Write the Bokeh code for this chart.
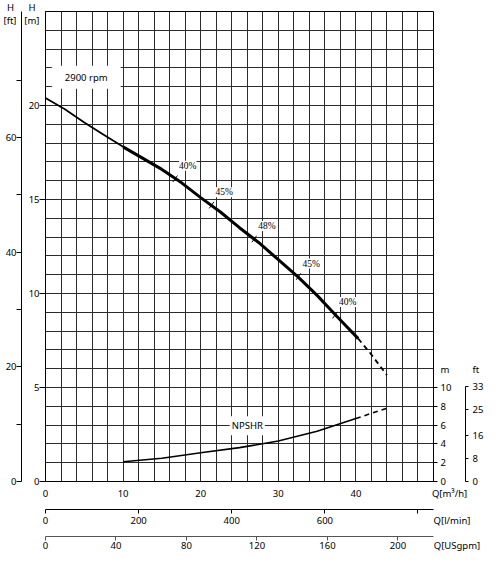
import numpy as np
from bokeh.plotting import figure
from bokeh.models import Range1d, LinearAxis, FixedTicker, Label, LabelSet, ColumnDataSource
from bokeh.embed import file_html
from bokeh.resources import INLINE

# ---------------- data ----------------
head_q_thin = [0, 2.5, 5, 7.5, 10]
head_h_thin = [20.4, 19.8, 19.1, 18.45, 17.8]
head_q_thick = [10, 12.5, 15, 17.5, 20, 22.5, 25, 27.5, 30, 32.5, 35, 37.5, 40.3]
head_h_thick = [17.8, 17.2, 16.6, 15.9, 15.1, 14.35, 13.5, 12.7, 11.8, 10.9, 9.9, 8.8, 7.6]
head_q_dash = [40.3, 42, 44]
head_h_dash = [7.6, 6.75, 5.65]

eff_q = [16.7, 21.4, 26.9, 32.6, 37.3]
eff_h = [16.1, 14.7, 12.9, 10.9, 8.85]
eff_labels = ["40%", "45%", "48%", "45%", "40%"]

npsh_q_solid = [10, 15, 20, 25, 30, 35, 40]
npsh_m_solid = [2.1, 2.47, 3.05, 3.6, 4.3, 5.35, 6.7]
npsh_q_dash = [40, 42, 44]
npsh_m_dash = [6.7, 7.25, 7.8]

h_m_ticks = [0, 5, 10, 15, 20]
h_ft_ticks = [0, 20, 40, 60]
h_ft_minor = [0, 10, 20, 30, 40, 50, 60, 70]
npsh_m_ticks = [0, 2, 4, 6, 8, 10]
npsh_ft_ticks = [0, 8, 16, 25, 33]
q_m3h_ticks = [0, 10, 20, 30, 40]
q_lmin_ticks = [0, 200, 400, 600]
q_lmin_marks = [0, 200, 400, 600, 800]
q_gpm_ticks = [0, 40, 80, 120, 160, 200]

Q_MAX = 50
H_MAX = 25
NPSH_FACTOR = 2.0          # 10 m NPSH drawn at 5 m of head
M_TO_FT = 3.28084
M3H_TO_LMIN = 1000 / 60
M3H_TO_GPM = 4.402868

FONT = "Noto Sans"
FS = "9.5px"
NB = "\u00a0"

FRAME_H = 473
FRAME_W = 392

p = figure(width=486, height=554,
           x_range=Range1d(0, Q_MAX), y_range=Range1d(0, H_MAX),
           x_axis_location=None, y_axis_location=None,
           output_backend="svg", toolbar_location=None,
           min_border_left=45, min_border_right=49, min_border_top=11, min_border_bottom=70)
p.background_fill_color = "white"
p.border_fill_color = "white"
p.outline_line_color = "black"
p.outline_line_width = 1

ft_end = H_MAX * M_TO_FT
npsh_end = H_MAX * NPSH_FACTOR
npsh_ft_end = npsh_end * M_TO_FT
lmin_end = Q_MAX * M3H_TO_LMIN
gpm_end = Q_MAX * M3H_TO_GPM

p.extra_y_ranges = {
    "ft": Range1d(0, ft_end),
    "npsh": Range1d(0, npsh_end),
    "npsh_ft": Range1d(0, npsh_ft_end),
}
p.extra_x_ranges = {
    "lmin": Range1d(0, lmin_end),
    "gpm": Range1d(0, gpm_end),
}

# grid
p.xgrid.ticker = FixedTicker(ticks=list(np.arange(0, Q_MAX + 1, 2)))
p.ygrid.ticker = FixedTicker(ticks=list(np.arange(0, H_MAX + 1, 1)))
p.xgrid.grid_line_color = "#2b2b2b"
p.ygrid.grid_line_color = "#2b2b2b"
p.xgrid.grid_line_width = 1
p.ygrid.grid_line_width = 1


def style_axis(ax):
    ax.major_label_text_font = FONT
    ax.major_label_text_font_size = FS
    ax.major_label_text_color = "black"
    ax.major_label_text_line_height = 1.0
    ax.axis_line_color = "black"
    ax.major_tick_line_color = "black"
    ax.minor_tick_line_color = "black"
    ax.major_tick_in = 0
    ax.minor_tick_in = 0
    ax.minor_tick_out = 0
    ax.axis_label_text_font = FONT
    return ax


# header positions (two-line titles at the top of the vertical axes)
hdr_px = 2.5
hdr_m = H_MAX - hdr_px * H_MAX / FRAME_H
hdr_ft = ft_end - hdr_px * ft_end / FRAME_H

# left axes: m (next to frame) and ft (outside)
ax_m = style_axis(LinearAxis(ticker=FixedTicker(ticks=h_m_ticks + [hdr_m], minor_ticks=h_m_ticks),
                             major_label_overrides={hdr_m: "H" + NB + "\u2009\n[m]"}))
ax_m.major_tick_out = 0
ax_m.minor_tick_out = 6
ax_m.major_label_standoff = 0
p.add_layout(ax_m, "left")

ax_ft = style_axis(LinearAxis(y_range_name="ft",
                              ticker=FixedTicker(ticks=h_ft_ticks + [hdr_ft], minor_ticks=h_ft_minor),
                              major_label_overrides={hdr_ft: "H" + NB + "\n[ft]"}))
ax_ft.major_tick_out = 0
ax_ft.minor_tick_out = 5
ax_ft.major_label_standoff = 0
p.add_layout(ax_ft, "left")

# right axes: NPSH m, line of NPSH ft, NPSH ft ticks
unit_px = 113
npsh_unit = unit_px * npsh_end / FRAME_H
npsh_ft_unit = unit_px * npsh_ft_end / FRAME_H

ax_nm = style_axis(LinearAxis(y_range_name="npsh",
                              ticker=FixedTicker(ticks=npsh_m_ticks + [npsh_unit], minor_ticks=npsh_m_ticks),
                              major_label_overrides={npsh_unit: "m"},
                              bounds=(0, npsh_unit)))
ax_nm.major_tick_out = 0
ax_nm.minor_tick_out = 4
ax_nm.major_label_standoff = 3
ax_nm.axis_label = " "
ax_nm.axis_label_text_font_size = "5px"
ax_nm.axis_label_standoff = 2
p.add_layout(ax_nm, "right")

ax_nline = style_axis(LinearAxis(y_range_name="npsh_ft", ticker=FixedTicker(ticks=[]),
                                 bounds=(0, 33)))
ax_nline.major_tick_out = 0
ax_nline.major_label_standoff = 0
p.add_layout(ax_nline, "right")

ax_nft = style_axis(LinearAxis(y_range_name="npsh_ft",
                               ticker=FixedTicker(ticks=npsh_ft_ticks + [npsh_ft_unit],
                                                  minor_ticks=npsh_ft_ticks),
                               major_label_overrides={npsh_ft_unit: "ft"},
                               bounds=(0, npsh_ft_unit)))
ax_nft.axis_line_color = None
ax_nft.major_tick_out = 0
ax_nft.minor_tick_out = 3
ax_nft.major_label_standoff = 4
p.add_layout(ax_nft, "right")

# bottom axes
q_end = Q_MAX - 1e-9
ax_q = style_axis(LinearAxis(ticker=FixedTicker(ticks=q_m3h_ticks + [q_end]),
                             major_label_overrides={q_end: NB * 13 + "Q[m³/h]"}))
ax_q.axis_line_color = None
ax_q.major_tick_out = 0
ax_q.major_label_standoff = 5
ax_q.axis_label = " "
ax_q.axis_label_text_font_size = "3px"
ax_q.axis_label_standoff = 0
p.add_layout(ax_q, "below")

l_end = lmin_end - 1e-9
ax_l = style_axis(LinearAxis(x_range_name="lmin",
                             ticker=FixedTicker(ticks=q_lmin_ticks + [l_end], minor_ticks=q_lmin_marks),
                             major_label_overrides={l_end: NB * 15 + "Q[l/min]"}))
ax_l.major_tick_out = 0
ax_l.minor_tick_out = 4
ax_l.major_label_standoff = 0
ax_l.axis_label = " "
ax_l.axis_label_text_font_size = "3px"
ax_l.axis_label_standoff = 0
p.add_layout(ax_l, "below")

g_end = gpm_end - 1e-9
ax_g = style_axis(LinearAxis(x_range_name="gpm",
                             ticker=FixedTicker(ticks=q_gpm_ticks + [g_end], minor_ticks=q_gpm_ticks),
                             major_label_overrides={g_end: NB * 19 + "Q[USgpm]"}))
ax_g.axis_line_color = "#555555"
ax_g.minor_tick_line_color = "#555555"
ax_g.major_tick_out = 0
ax_g.minor_tick_out = 4
ax_g.major_label_standoff = -2
p.add_layout(ax_g, "below")

# curves
p.line(head_q_thin, head_h_thin, line_color="black", line_width=1.8)
p.line(head_q_thick, head_h_thick, line_color="black", line_width=3)
p.line(head_q_dash, head_h_dash, line_color="black", line_width=1.8, line_dash="5 4")

p.line(npsh_q_solid, npsh_m_solid, y_range_name="npsh", line_color="black", line_width=1.6)
p.line(npsh_q_dash, npsh_m_dash, y_range_name="npsh", line_color="black", line_width=1.6,
       line_dash="5 4")

p.scatter(eff_q, eff_h, marker="dash", size=8, angle=0.95, line_color="black", line_width=1)

has_pad = "padding" in Label.properties()

eff_src = ColumnDataSource(dict(x=eff_q, y=eff_h, t=eff_labels))
p.add_layout(LabelSet(x="x", y="y", text="t", source=eff_src, x_offset=4, y_offset=8,
                      text_align="left", text_baseline="bottom", text_font=FONT,
                      text_color="black", text_font_size=FS, background_fill_color="white"))


def add_label(x, y, text, align="left", baseline="middle", bg=None, pad=0,
              y_range_name="default"):
    kw = dict(x=x, y=y, text=text, text_align=align, text_baseline=baseline,
              text_font=FONT, text_font_size=FS, text_color="black",
              y_range_name=y_range_name)
    if bg:
        kw["background_fill_color"] = bg
        if has_pad and pad:
            kw["padding"] = pad
    p.add_layout(Label(**kw))


add_label(5.25, 21.5, "2900 rpm", align="center", bg="white", pad=(13, 5))
add_label(26.0, 5.92, "NPSHR", align="center", bg="white", pad=(2, 3), y_range_name="npsh")

open("out.html", "w").write(file_html(p, INLINE))
